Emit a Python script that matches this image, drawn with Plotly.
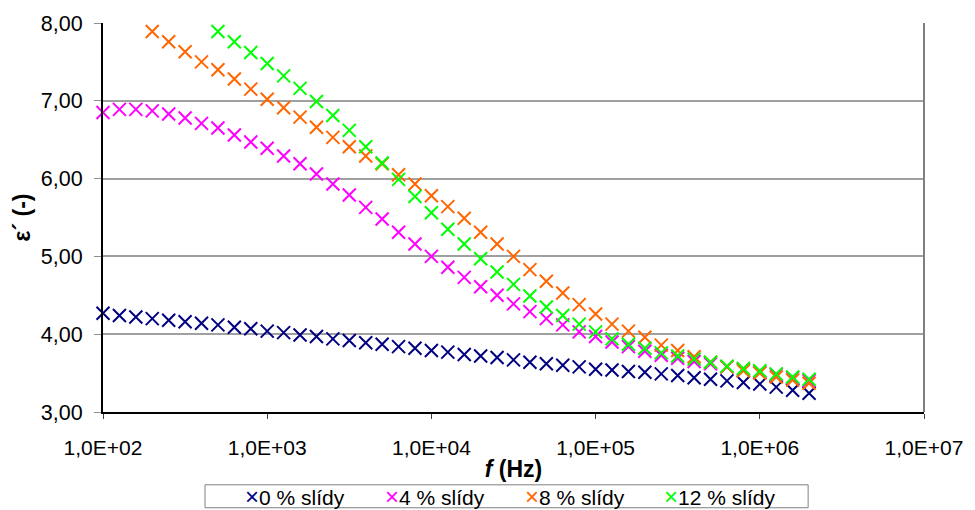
import plotly.graph_objects as go

# frequencies: 10 points per decade, 1e2 .. 2e6
freq_exp = [2 + k / 10 for k in range(44)]
freq = [10 ** e for e in freq_exp]

eps_0 = [4.27, 4.24, 4.22, 4.20, 4.18, 4.16, 4.14, 4.12, 4.09, 4.07, 4.04,
         4.02, 3.99, 3.97, 3.94, 3.92, 3.89, 3.87, 3.84, 3.82, 3.79,
         3.77, 3.74, 3.72, 3.70, 3.67, 3.64, 3.62, 3.60, 3.58, 3.55,
         3.54, 3.52, 3.51, 3.49, 3.47, 3.44, 3.42, 3.40, 3.38, 3.36,
         3.32, 3.28, 3.24]

eps_4 = [6.85, 6.89, 6.89, 6.87, 6.83, 6.78, 6.71, 6.65, 6.56, 6.47, 6.39,
         6.29, 6.19, 6.06, 5.93, 5.79, 5.63, 5.48, 5.31, 5.16, 5.00,
         4.86, 4.73, 4.61, 4.50, 4.39, 4.29, 4.20, 4.12, 4.03, 3.97,
         3.90, 3.84, 3.78, 3.73, 3.69, 3.65, 3.62, 3.58, 3.55, 3.51,
         3.48, 3.44, 3.40]

eps_8 = [7.89, 7.76, 7.63, 7.50, 7.40, 7.28, 7.15, 7.02, 6.91, 6.79,
         6.66, 6.53, 6.41, 6.29, 6.19, 6.05, 5.93, 5.78, 5.64, 5.49,
         5.31, 5.16, 5.00, 4.83, 4.68, 4.53, 4.38, 4.26, 4.13, 4.04,
         3.96, 3.86, 3.79, 3.71, 3.64, 3.58, 3.53, 3.50, 3.45, 3.41,
         3.37]
freq_8 = freq[3:]

eps_12 = [7.89, 7.76, 7.62, 7.48, 7.32, 7.16, 6.99, 6.81, 6.62, 6.41,
          6.20, 5.99, 5.77, 5.56, 5.35, 5.16, 4.97, 4.80, 4.64, 4.49,
          4.35, 4.24, 4.13, 4.03, 3.94, 3.87, 3.82, 3.76, 3.72, 3.68,
          3.64, 3.59, 3.56, 3.53, 3.49, 3.45, 3.42]
freq_12 = freq[7:]

series_names = ["0 % slídy", "4 % slídy", "8 % slídy", "12 % slídy"]
series_colors = ["#000080", "#FF00FF", "#FF6600", "#00FF00"]

x_tickvals = [1e2, 1e3, 1e4, 1e5, 1e6, 1e7]
x_ticktext = ["1,0E+02", "1,0E+03", "1,0E+04", "1,0E+05", "1,0E+06", "1,0E+07"]
y_tickvals = [3, 4, 5, 6, 7, 8]
y_ticktext = ["3,00", "4,00", "5,00", "6,00", "7,00", "8,00"]

W, H = 975, 510
ML, MR, MT, MB = 103, 43, 22, 98
PW, PH = W - ML - MR, H - MT - MB


def px_x(p):
    return (p - ML) / PW


def px_y(p):
    return (H - MB - p) / PH


FONT = "Liberation Sans, Arial, sans-serif"

fig = go.Figure()
for xs, ys, name, col in zip([freq, freq, freq_8, freq_12],
                             [eps_0, eps_4, eps_8, eps_12],
                             series_names, series_colors):
    fig.add_trace(go.Scatter(
        x=xs, y=ys, mode="markers", name=name, cliponaxis=False,
        marker=dict(symbol="x-thin", size=13, color=col,
                    line=dict(color=col, width=2)),
    ))

fig.update_layout(
    width=W, height=H,
    margin=dict(l=ML, r=MR, t=MT, b=MB),
    paper_bgcolor="white", plot_bgcolor="white",
    font=dict(family=FONT, color="black"),
    showlegend=False,
    xaxis=dict(
        type="log", range=[2, 7],
        tickvals=x_tickvals, ticktext=x_ticktext,
        tickfont=dict(size=21), ticks="outside", ticklen=5,
        ticklabelstandoff=11,
        tickcolor="#404040", showline=True, linecolor="black", linewidth=2,
        showgrid=False, zeroline=False,
        title=dict(text="<b><i>f</i> (Hz)</b>", font=dict(size=23), standoff=3),
    ),
    yaxis=dict(
        range=[3, 8],
        tickvals=y_tickvals, ticktext=y_ticktext,
        tickfont=dict(size=21.5), ticks="outside", ticklen=7,
        ticklabelstandoff=7,
        tickcolor="#909090", showline=True, linecolor="black", linewidth=2,
        showgrid=True, gridcolor="#A0A0A0", gridwidth=2, zeroline=False,
        title=dict(text="<b>ε´ (-)</b>", font=dict(size=23), standoff=4),
    ),
)
# right border of the plot area
fig.add_shape(type="line", xref="paper", yref="paper", x0=1, x1=1, y0=0, y1=1,
              line=dict(color="#808080", width=2))

# legend box (drawn to match the original compact legend)
fig.add_shape(type="rect", xref="paper", yref="paper",
              x0=px_x(206), x1=px_x(815), y0=px_y(485), y1=px_y(508),
              line=dict(color="#808080", width=1), fillcolor="white")
legend_left_px = [244, 386, 527, 667]
for name, col, lx in zip(series_names, series_colors, legend_left_px):
    fig.add_annotation(
        xref="paper", yref="paper", x=px_x(lx), y=px_y(497),
        xanchor="left", yanchor="middle", showarrow=False,
        text=f"<span style='color:{col};font-size:24px'>×</span>{name}",
        font=dict(family=FONT, size=21, color="black"),
    )

fig.write_html("out.html")
